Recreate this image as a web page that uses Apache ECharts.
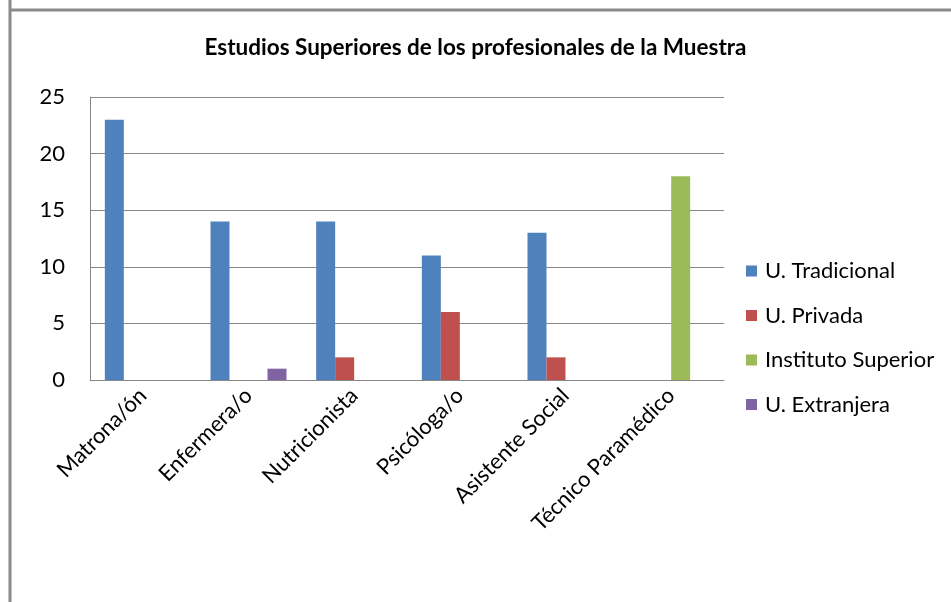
<!DOCTYPE html>
<html>
<head>
<meta charset="utf-8">
<script src="https://cdn.jsdelivr.net/npm/echarts@6/dist/echarts.min.js"></script>
<style>
html, body { margin: 0; padding: 0; background: #fff; }
#chart { width: 951px; height: 602px; }
</style>
</head>
<body>
<div id="chart"></div>
<script>
var categories = ['Matrona/ón', 'Enfermera/o', 'Nutricionista', 'Psicóloga/o', 'Asistente Social', 'Técnico Paramédico'];
var tradicional = [23, 14, 14, 11, 13, 0];
var privada = [0, 0, 2, 6, 2, 0];
var instituto = [0, 0, 0, 0, 0, 18];
var extranjera = [0, 1, 0, 0, 0, 0];

var fontName = 'Lato';

function barSeries(name, data, color) {
	return {
		name: name,
		type: 'bar',
		data: data,
		barWidth: 19,
		barGap: '0%',
		itemStyle: { color: color },
		emphasis: { disabled: true }
	};
}

var myChart = echarts.init(document.getElementById('chart'));
var option = {
	animation: false,
	textStyle: { fontFamily: fontName },
	title: {
		text: 'Estudios Superiores de los profesionales de la Muestra',
		left: 'center',
		top: 31,
		textStyle: { fontFamily: fontName, fontSize: 22.5, fontWeight: 'bold', color: '#000' }
	},
	legend: {
		orient: 'vertical',
		left: 741,
		top: 255,
		itemWidth: 11,
		itemHeight: 11,
		itemGap: 22.5,
		icon: 'rect',
		textStyle: { fontFamily: fontName, fontSize: 22, lineHeight: 22, color: '#000', padding: [0, 0, 0, 3] },
		data: ['U. Tradicional', 'U. Privada', 'Instituto Superior', 'U. Extranjera']
	},
	grid: { left: 90, right: 227, top: 97, bottom: 222, containLabel: false },
	xAxis: {
		type: 'category',
		data: categories,
		axisLine: { lineStyle: { color: '#888', width: 1 } },
		axisTick: { show: false },
		axisLabel: { rotate: 45, fontSize: 22, color: '#000', margin: 12, interval: 0 }
	},
	yAxis: {
		type: 'value',
		min: 0,
		max: 25,
		interval: 5,
		axisLine: { show: true, lineStyle: { color: '#888', width: 1 } },
		axisTick: { show: false },
		splitLine: { lineStyle: { color: '#888', width: 1 } },
		axisLabel: { fontSize: 22, color: '#000', margin: 25 }
	},
	graphic: [
		{ type: 'line', shape: { x1: 10, y1: 0, x2: 10, y2: 602 }, style: { stroke: '#8a8a8a', lineWidth: 3 } },
		{ type: 'line', shape: { x1: 9, y1: 10, x2: 951, y2: 10 }, style: { stroke: '#8a8a8a', lineWidth: 3 } }
	],
	series: [
		barSeries('U. Tradicional', tradicional, '#4F81BD'),
		barSeries('U. Privada', privada, '#C0504D'),
		barSeries('Instituto Superior', instituto, '#9BBB59'),
		barSeries('U. Extranjera', extranjera, '#8064A2')
	]
};
myChart.setOption(option);
</script>
</body>
</html>
